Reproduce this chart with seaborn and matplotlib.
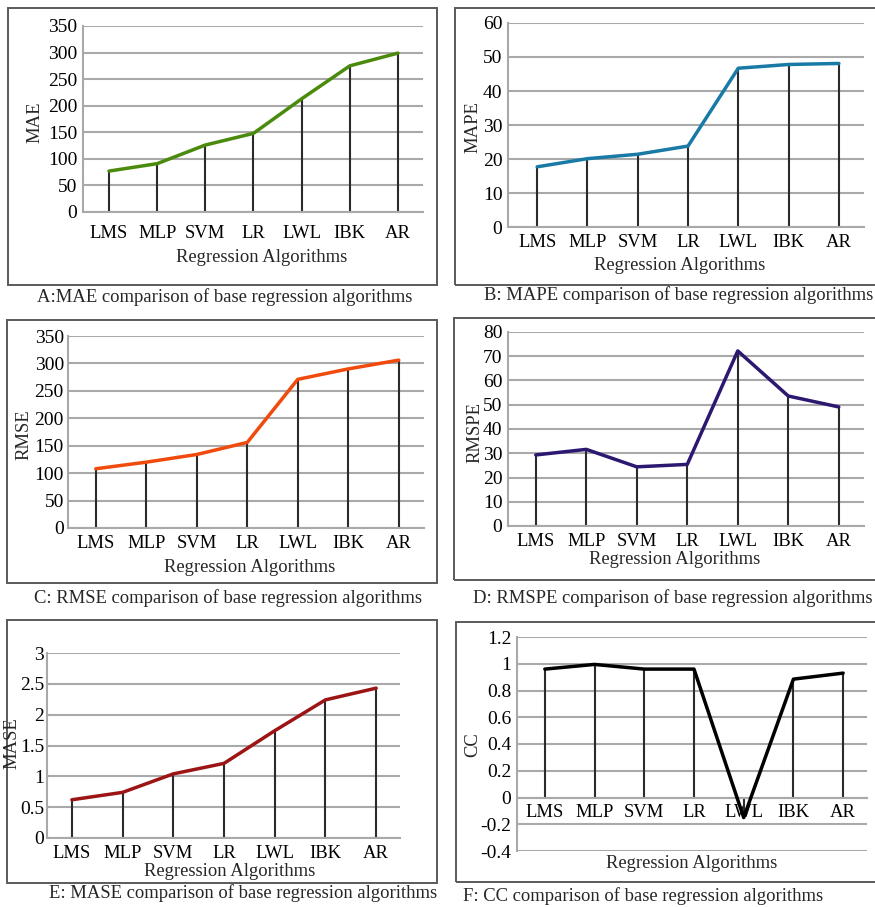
import numpy as np
import pandas as pd
import matplotlib
matplotlib.use("Agg")
import matplotlib.pyplot as plt
from matplotlib.patches import Rectangle
import seaborn as sns

algorithms = ["LMS", "MLP", "SVM", "LR", "LWL", "IBK", "AR"]
mae = [77, 91, 126, 148, 213, 275, 299]
mape = [17.7, 20.1, 21.4, 23.8, 46.7, 47.8, 48.1]
rmse = [108, 120, 134, 156, 271, 290, 306]
rmspe = [29.3, 31.6, 24.4, 25.4, 72.2, 53.6, 49.1]
mase = [0.62, 0.74, 1.04, 1.21, 1.74, 2.24, 2.43]
cc = [0.96, 0.995, 0.96, 0.96, -0.15, 0.885, 0.93]

sns.set_theme(style="white")
plt.rcParams["font.family"] = ["Liberation Serif", "DejaVu Serif"]

W, H = 875, 907
fig = plt.figure(figsize=(W / 100, H / 100), dpi=100)
fig.patch.set_facecolor("white")

FS = 13.4
YFS = 14


def fx(x):
    return x / W


def fy(y):
    return 1 - y / H


def add_frame(x0, y0, x1, y1):
    fig.patches.append(Rectangle((fx(x0), fy(y1)), fx(x1 - x0), (y1 - y0) / H,
                                 transform=fig.transFigure, fill=False,
                                 edgecolor="#5a5a5a", linewidth=1.4, zorder=0))


panels = [
    dict(values=mae, ylabel="MAE", color="#4a8a0c", ticks=np.arange(0, 351, 50), ylim=(0, 350),
         ax=(83, 26, 423, 212), xlim=(-0.54, 6.52), pad=9, ypad=4,
         frame=(8, 8, 437, 285), ylab=(35, 122), xlab=(262, 258),
         cap="A:MAE comparison of base regression algorithms", capxy=(225, 297), capha="center"),
    dict(values=mape, ylabel="MAPE", color="#1a7aa6", ticks=np.arange(0, 61, 10), ylim=(0, 60),
         ax=(508, 23, 864, 227), xlim=(-0.58, 6.5), pad=5, ypad=4,
         frame=(455, 8, 890, 285), ylab=(473, 127), xlab=(680, 265),
         cap="B: MAPE comparison of base regression algorithms", capxy=(484, 295), capha="left"),
    dict(values=rmse, ylabel="RMSE", color="#f04a0c", ticks=np.arange(0, 351, 50), ylim=(0, 350),
         ax=(68, 336, 424, 528), xlim=(-0.55, 6.5), pad=5, ypad=3,
         frame=(7, 320, 437, 583), ylab=(24, 435), xlab=(250, 568),
         cap="C: RMSE comparison of base regression algorithms", capxy=(228, 598), capha="center"),
    dict(values=rmspe, ylabel="RMSPE", color="#2c1870", ticks=np.arange(0, 81, 10), ylim=(0, 80),
         ax=(508, 332, 864, 526), xlim=(-0.55, 6.5), pad=5, ypad=4,
         frame=(454, 318, 890, 580), ylab=(475, 432), xlab=(675, 560),
         cap="D: RMSPE comparison of base regression algorithms", capxy=(473, 598), capha="left"),
    dict(values=mase, ylabel="MASE", color="#9c1414", ticks=np.arange(0, 3.01, 0.5), ylim=(0, 3),
         ax=(47, 653, 400, 838), xlim=(-0.49, 6.47), pad=5, ypad=2,
         frame=(7, 620, 437, 883), ylab=(12, 743), xlab=(230, 872),
         cap="E: MASE comparison of base regression algorithms", capxy=(243, 893), capha="center"),
    dict(values=cc, ylabel="CC", color="#000000", ticks=np.round(np.arange(-0.4, 1.21, 0.2), 1), ylim=(-0.4, 1.2),
         ax=(517, 637, 867, 851), xlim=(-0.56, 6.48), pad=5, ypad=4,
         frame=(456, 622, 890, 882), ylab=(473, 745), xlab=(692, 863),
         cap="F: CC comparison of base regression algorithms", capxy=(643, 896), capha="center"),
]

x = np.arange(len(algorithms))

for p in panels:
    add_frame(*p["frame"])
    l, t, r, b = p["ax"]
    ax = fig.add_axes([fx(l), fy(b), fx(r - l), (b - t) / H])
    ax.set_facecolor("none")
    df = pd.DataFrame({"pos": x, "value": p["values"]})
    base = 0 if p["ylim"][0] < 0 else p["ylim"][0]
    for tv in p["ticks"]:
        ax.axhline(tv, color="#a9a9a9", lw=1.5, zorder=1)
    ax.vlines(df["pos"], base, df["value"], color="#2b2b2b", lw=1.5, zorder=2)
    sns.lineplot(data=df, x="pos", y="value", color=p["color"], lw=2.5, ax=ax, zorder=3,
                 sort=False)
    for s in ["top", "right"]:
        ax.spines[s].set_visible(False)
    if p["ylim"][0] < 0:
        ax.spines["bottom"].set_position(("data", 0))
    ax.spines["left"].set_color("#a9a9a9")
    ax.spines["left"].set_linewidth(1.5)
    ax.spines["bottom"].set_color("#a9a9a9")
    ax.spines["bottom"].set_linewidth(1.5)
    ax.set_xlim(*p["xlim"])
    ax.set_ylim(*p["ylim"])
    ax.set_yticks(p["ticks"])
    ax.set_yticklabels(["{:g}".format(round(v, 1)) for v in p["ticks"]], fontsize=YFS)
    ax.set_xticks(x)
    ax.set_xticklabels(algorithms, fontsize=FS)
    ax.tick_params(axis="both", length=0, colors="black")
    ax.tick_params(axis="y", pad=p["ypad"])
    ax.tick_params(axis="x", pad=p["pad"])
    ax.set_xlabel("")
    ax.set_ylabel("")
    fig.text(fx(p["ylab"][0]), fy(p["ylab"][1]), p["ylabel"], rotation=90,
             ha="center", va="center", fontsize=FS)
    fig.text(fx(p["xlab"][0]), fy(p["xlab"][1]), "Regression Algorithms",
             ha="center", va="center", fontsize=FS)
    fig.text(fx(p["capxy"][0]), fy(p["capxy"][1]), p["cap"],
             ha=p["capha"], va="center", fontsize=FS)

fig.savefig("out.png", dpi=100)
